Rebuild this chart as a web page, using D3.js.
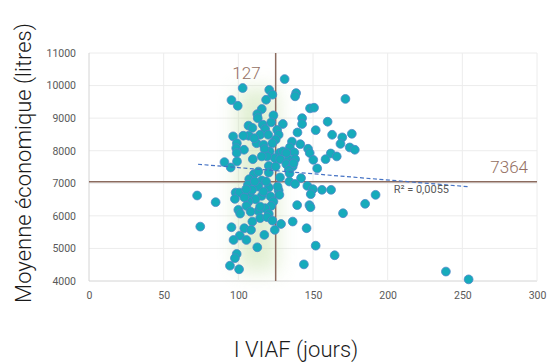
<!DOCTYPE html>
<html>
<head>
<meta charset="utf-8">
<script src="https://cdn.jsdelivr.net/npm/d3@7"></script>
<style>
  body { margin: 0; background: #fff; }
  svg { display: block; font-family: Roboto, "Open Sans", sans-serif; }
</style>
</head>
<body>
<div id="chart"></div>
<script>
// valeurs
const viaf = [131, 102.9, 120.7, 122.8, 138.7, 138, 171.7, 95.4, 118.6, 99.6,
  148, 150.7, 115.7, 112.7, 113, 123.5, 142.7, 159.8, 129.8, 142.7,
  122, 116.4, 106.8, 109.4, 118, 126, 151.8, 139.6, 114.6, 120,
  127, 107, 103.3, 96.5, 162.8, 176, 169.6, 168.4, 112.2, 116.9,
  125, 135.9, 141.5, 99, 98.6, 103.8, 174.6, 178, 121, 127.5,
  134.5, 146.7, 147.8, 161.9, 165.9, 137.5, 98.9, 124.4, 128, 133.6,
  138, 150.2, 158.4, 109.7, 99.1, 90.7, 132.1, 136.4, 120.4, 94.9,
  152.8, 133.8, 120.4, 134.3, 110.4, 127.9, 142, 107.3, 115.7, 134.1,
  138, 146.2, 106.4, 113.4, 120.4, 127, 98.2, 100.7, 72.4, 191.9,
  156, 162.1, 149.9, 148.5, 127.5, 108, 115.7, 97.7, 111.5, 121.6,
  84.8, 106.8, 123.5, 184.9, 139.4, 147.6, 148.3, 105.4, 122, 100,
  113.4, 118, 101.2, 108.2, 170.1, 120.4, 114.6, 119.3, 109.4, 122.8,
  128.6, 136.4, 74.5, 95.4, 104, 108.5, 124.4, 145.7, 101, 117.4,
  96.8, 105.4, 112.7, 151.8, 98.9, 97.7, 164.5, 94.4, 100.5, 143.9,
  239, 254.2, 117.6, 110.7, 119.3, 129.8, 125, 113.4, 118.6, 109.2,
  116.9, 111, 104, 114.6, 126.3, 132.1, 137, 122.8, 105.2, 115.7];
const moyenne = [10200, 9925, 9870, 9720, 9770, 9670, 9590, 9555, 9565, 9380,
  9300, 9320, 9280, 9125, 9000, 9085, 9000, 8890, 8820, 8820,
  8870, 8800, 8770, 8700, 8665, 8640, 8630, 8560, 8490, 8490,
  8490, 8460, 8460, 8440, 8490, 8520, 8410, 8210, 8230, 8180,
  8340, 8280, 8200, 8230, 8080, 8030, 8100, 8030, 7980, 7930,
  8100, 8060, 7930, 7915, 7825, 7945, 7930, 7770, 7740, 7740,
  7740, 7720, 7740, 7740, 7670, 7650, 7590, 7515, 7535, 7485,
  7455, 7410, 7330, 7310, 7280, 7180, 7160, 7125, 7085, 7055,
  6980, 6920, 6950, 6900, 6870, 6780, 6715, 6715, 6625, 6645,
  6800, 6800, 6820, 6665, 6645, 6595, 6615, 6520, 6510, 6595,
  6420, 6440, 6440, 6370, 6330, 6330, 6265, 6305, 6305, 6185,
  6150, 6235, 6070, 6130, 6080, 6060, 5930, 5960, 5825, 5855,
  5750, 5825, 5670, 5650, 5620, 5570, 5570, 5620, 5395, 5415,
  5260, 5260, 5035, 5085, 4830, 4700, 4790, 4470, 4360, 4510,
  4290, 4050, 8050, 8385, 7825, 7980, 7515, 7360, 7055, 6800,
  6745, 7055, 6565, 6285, 6900, 7930, 7615, 8230, 6815, 7825];

const xTicks = [0, 50, 100, 150, 200, 250, 300];
const yTicks = [4000, 5000, 6000, 7000, 8000, 9000, 10000, 11000];
const trendX = [73, 254];
const trendY = [7585, 6895];
const refX = 125, refY = 7050;      // position des droites de référence
const refXLabel = '127', refYLabel = '7364';
const glowX = [99, 126];
const glowY = [4300, 9900];

const width = 548, height = 362;
const margin = { top: 53, right: 11, bottom: 81, left: 89 };
const innerW = width - margin.left - margin.right;
const innerH = height - margin.top - margin.bottom;

const svg = d3.select('#chart').append('svg')
  .attr('width', width).attr('height', height);

const defs = svg.append('defs');
defs.append('filter').attr('id', 'glow')
  .attr('x', '-100%').attr('y', '-30%').attr('width', '300%').attr('height', '160%')
  .append('feGaussianBlur').attr('stdDeviation', 10);

const g = svg.append('g').attr('transform', `translate(${margin.left},${margin.top})`);

const x = d3.scaleLinear().domain([0, 300]).range([0, innerW]);
const y = d3.scaleLinear().domain([4000, 11000]).range([innerH, 0]);

// grille
g.append('g').selectAll('line').data(yTicks).join('line')
  .attr('x1', 0).attr('x2', innerW)
  .attr('y1', d => y(d)).attr('y2', d => y(d))
  .attr('stroke', d => d === 4000 ? '#d4d4d4' : '#ececec').attr('stroke-width', 1);
g.append('g').selectAll('line').data(xTicks).join('line')
  .attr('y1', 0).attr('y2', innerH)
  .attr('x1', d => x(d)).attr('x2', d => x(d))
  .attr('stroke', d => d === 0 ? '#d4d4d4' : '#ececec').attr('stroke-width', 1);

// halo vert
g.append('rect')
  .attr('x', x(glowX[0])).attr('width', x(glowX[1]) - x(glowX[0]))
  .attr('y', y(glowY[1])).attr('height', y(glowY[0]) - y(glowY[1]))
  .attr('fill', '#bcdc9c').attr('opacity', 0.45)
  .attr('filter', 'url(#glow)');

// axes (labels seulement)
const yAxis = g.append('g').call(d3.axisLeft(y).tickValues(yTicks).tickFormat(d3.format('d'))
  .tickSize(0).tickPadding(13));
const xAxis = g.append('g').attr('transform', `translate(0,${innerH})`)
  .call(d3.axisBottom(x).tickValues(xTicks).tickFormat(d3.format('d')).tickSize(0).tickPadding(11));
[xAxis, yAxis].forEach(a => {
  a.select('.domain').remove();
  a.selectAll('text').attr('fill', '#595959').style('font-size', '10.5px')
    .style('font-family', 'Roboto, sans-serif');
});

// droites de référence
g.append('line')
  .attr('x1', 0).attr('x2', innerW).attr('y1', y(refY)).attr('y2', y(refY))
  .attr('stroke', '#8b6b5e').attr('stroke-width', 1.5);
g.append('line')
  .attr('x1', x(refX)).attr('x2', x(refX)).attr('y1', 0).attr('y2', innerH)
  .attr('stroke', '#8b6b5e').attr('stroke-width', 1.5);

// points
g.append('g').selectAll('circle').data(viaf.map((v, i) => [v, moyenne[i]])).join('circle')
  .attr('cx', d => x(d[0])).attr('cy', d => y(d[1])).attr('r', 4.4)
  .attr('fill', '#16abbb').attr('stroke', '#4f86c8').attr('stroke-width', 0.8);

// tendance
g.append('line')
  .attr('x1', x(trendX[0])).attr('y1', y(trendY[0]))
  .attr('x2', x(trendX[1])).attr('y2', y(trendY[1]))
  .attr('stroke', '#4472c4').attr('stroke-width', 1.2)
  .attr('stroke-dasharray', '4,2.5');

g.append('text')
  .attr('x', x(204)).attr('y', y(refY) + 11)
  .attr('fill', '#595959').style('font-size', '11px')
  .text('R² = 0,0055');

// étiquettes des références
g.append('text')
  .attr('x', x(refX) - 15).attr('y', y(10200))
  .attr('text-anchor', 'end').attr('fill', '#946f62')
  .style('font-size', '17px').style('font-weight', 300)
  .text(refXLabel);
g.append('text')
  .attr('x', innerW - 9).attr('y', y(refY) - 9)
  .attr('text-anchor', 'end').attr('fill', '#946f62')
  .style('font-size', '17px').style('font-weight', 300)
  .text(refYLabel);

// titres
svg.append('text')
  .attr('transform', `translate(31,${163}) rotate(-90)`)
  .attr('text-anchor', 'middle').attr('fill', '#1a1a1a')
  .style('font-size', '22px').style('font-weight', 300)
  .text('Moyenne économique (litres)');
svg.append('text')
  .attr('x', 296).attr('y', 357)
  .attr('text-anchor', 'middle').attr('fill', '#1a1a1a')
  .style('font-size', '22px').style('font-weight', 300)
  .text('I VIAF (jours)');
</script>
</body>
</html>
